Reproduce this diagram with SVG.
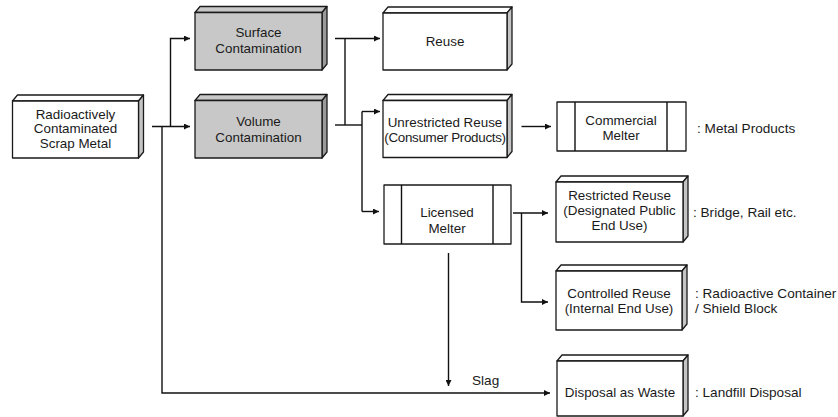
<svg xmlns="http://www.w3.org/2000/svg" width="838" height="417" viewBox="0 0 838 417">
<defs>
<style>
.fw{fill:#fff;stroke:#1a1a1a;stroke-width:1.3;stroke-linejoin:round}
.fg{fill:#c8c8c8;stroke:#1a1a1a;stroke-width:1.3;stroke-linejoin:round}
.sw{fill:#c4c4c4;stroke:#1a1a1a;stroke-width:1.3;stroke-linejoin:round}
.sg{fill:#9a9a9a;stroke:#1a1a1a;stroke-width:1.3;stroke-linejoin:round}
.ln{fill:none;stroke:#111;stroke-width:1.4}
.t{font-family:"Liberation Sans",Arial,sans-serif;font-size:13.4px;fill:#1a1a1a;text-anchor:middle}
.l{font-family:"Liberation Sans",Arial,sans-serif;font-size:13.6px;fill:#1a1a1a}
</style>
<marker id="ah" viewBox="0 0 8 8" refX="8" refY="4" markerWidth="6" markerHeight="6" markerUnits="userSpaceOnUse" orient="auto">
<path d="M0,0 L8,4 L0,8 Z" fill="#111"/>
</marker>
</defs>

<g id="connectors">
<path class="ln" d="M152,126.5 H190" marker-end="url(#ah)"/>
<path class="ln" d="M170.5,126.5 V38.5 H190" marker-end="url(#ah)"/>
<path class="ln" d="M162,126.5 V393 H550" marker-end="url(#ah)"/>
<path class="ln" d="M335,38.5 H380" marker-end="url(#ah)"/>
<path class="ln" d="M345,38.5 V125"/>
<path class="ln" d="M335,125 H362"/>
<path class="ln" d="M362,111.5 V211.5"/>
<path class="ln" d="M362,111.5 H380" marker-end="url(#ah)"/>
<path class="ln" d="M362,211.5 H379" marker-end="url(#ah)"/>
<path class="ln" d="M521.5,126.5 H551" marker-end="url(#ah)"/>
<path class="ln" d="M513,213 H548" marker-end="url(#ah)"/>
<path class="ln" d="M521.5,213 V302 H548" marker-end="url(#ah)"/>
<path class="ln" d="M448.5,253 V386" marker-end="url(#ah)"/>
</g>

<g id="source">
<path class="fw" d="M12.5,101 L17.5,95 H143.5 L138.5,101 Z"/>
<path class="sw" d="M138.5,101 L143.5,95 V152 L138.5,158 Z"/>
<rect class="fw" x="12.5" y="101" width="126" height="57"/>
<text class="t" x="75.5" y="118.5">Radioactively</text>
<text class="t" x="75.5" y="133">Contaminated</text>
<text class="t" x="75.5" y="147.5">Scrap Metal</text>
</g>

<g id="surface">
<path class="fg" d="M195,12.5 L200,6.5 H327 L322,12.5 Z"/>
<path class="sg" d="M322,12.5 L327,6.5 V64 L322,70 Z"/>
<rect class="fg" x="195" y="12.5" width="127" height="57.5"/>
<text class="t" x="258.5" y="37">Surface</text>
<text class="t" x="258.5" y="53">Contamination</text>
</g>

<g id="volume">
<path class="fg" d="M195,100.5 L200,94.5 H327 L322,100.5 Z"/>
<path class="sg" d="M322,100.5 L327,94.5 V152 L322,158 Z"/>
<rect class="fg" x="195" y="100.5" width="127" height="57.5"/>
<text class="t" x="258.5" y="126">Volume</text>
<text class="t" x="258.5" y="142">Contamination</text>
</g>

<g id="reuse">
<path class="fw" d="M383,13 L388,7 H512 L507,13 Z"/>
<path class="sw" d="M507,13 L512,7 V64 L507,70 Z"/>
<rect class="fw" x="383" y="13" width="124" height="57"/>
<text class="t" x="445" y="46">Reuse</text>
</g>

<g id="unrestricted">
<path class="fw" d="M383,100.5 L388,94.5 H512 L507,100.5 Z"/>
<path class="sw" d="M507,100.5 L512,94.5 V151.5 L507,157.5 Z"/>
<rect class="fw" x="383" y="100.5" width="124" height="57"/>
<text class="t" x="445" y="127">Unrestricted Reuse</text>
<text class="t" x="445" y="142" style="letter-spacing:-0.3px">(Consumer Products)</text>
</g>

<g id="licensed">
<rect class="fw" x="384" y="185" width="127" height="59"/>
<path class="ln" d="M401.5,185 V244 M493,185 V244"/>
<text class="t" x="447" y="217">Licensed</text>
<text class="t" x="447" y="233">Melter</text>
</g>

<g id="commercial">
<rect class="fw" x="557" y="102" width="129" height="49"/>
<path class="ln" d="M575,102 V151 M667,102 V151"/>
<text class="t" x="621" y="125">Commercial</text>
<text class="t" x="621" y="140">Melter</text>
<text class="l" x="697" y="133">: Metal Products</text>
</g>

<g id="restricted">
<path class="fw" d="M556,182 L561,176 H688 L683,182 Z"/>
<path class="sw" d="M683,182 L688,176 V236 L683,242 Z"/>
<rect class="fw" x="556" y="182" width="127" height="60"/>
<text class="t" x="619.5" y="199.5">Restricted Reuse</text>
<text class="t" x="619.5" y="215">(Designated Public</text>
<text class="t" x="619.5" y="230">End Use)</text>
<text class="l" x="693" y="217">: Bridge, Rail etc.</text>
</g>

<g id="controlled">
<path class="fw" d="M556,271 L561,265 H687 L682,271 Z"/>
<path class="sw" d="M682,271 L687,265 V324 L682,330 Z"/>
<rect class="fw" x="556" y="271" width="126" height="59"/>
<text class="t" x="619" y="297.5">Controlled Reuse</text>
<text class="t" x="619" y="312.5">(Internal End Use)</text>
<text class="l" x="695" y="297.5">: Radioactive Container</text>
<text class="l" x="695" y="313">/ Shield Block</text>
</g>

<g id="disposal">
<path class="fw" d="M557,361 L562,355 H688 L683,361 Z"/>
<path class="sw" d="M683,361 L688,355 V410 L683,416 Z"/>
<rect class="fw" x="557" y="361" width="126" height="55"/>
<text class="t" x="620" y="397">Disposal as Waste</text>
<text class="l" x="695" y="397">: Landfill Disposal</text>
</g>

<g id="slag-label">
<text class="l" x="472" y="385">Slag</text>
</g>
</svg>
